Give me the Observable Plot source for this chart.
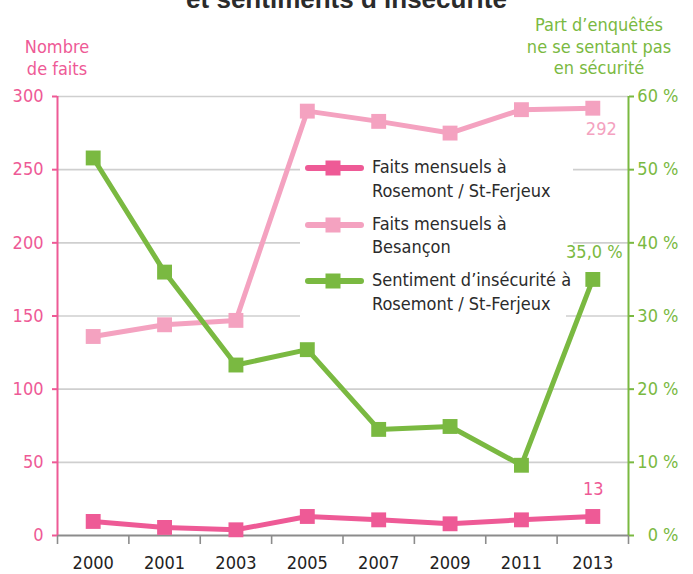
<!DOCTYPE html>
<html><head><meta charset="utf-8">
<script src="https://cdn.jsdelivr.net/npm/d3@7"></script>
<script src="https://cdn.jsdelivr.net/npm/@observablehq/plot@0.6"></script>
<style>
body{margin:0;background:#fff;}
#wrap{position:relative;width:693px;height:574px;overflow:hidden;font-family:"DejaVu Sans Condensed","DejaVu Sans",sans-serif;font-stretch:condensed;}
#chart{position:absolute;left:0;top:0;}
#title{position:absolute;left:0;width:693px;top:-14px;text-align:center;font-family:"Liberation Sans",Arial,sans-serif;font-stretch:normal;font-weight:bold;font-size:26px;line-height:26px;color:#2b2b2b;}
#ytL{position:absolute;left:7px;width:100px;top:36px;text-align:center;font-size:18px;line-height:21.5px;color:#ee5a96;}
#ytR{position:absolute;left:509px;width:180px;top:14px;text-align:center;font-size:18px;line-height:21.5px;color:#7ab941;}
#legend{position:absolute;left:300px;top:146px;width:273px;height:172px;}
.bg{position:absolute;background:#fff;}
.item{position:absolute;left:0;width:273px;}
.item svg{position:absolute;left:0;top:0;overflow:visible;}
.item .lab{position:absolute;left:72px;font-size:18px;line-height:23.5px;color:#2b2b2b;white-space:pre;}
</style></head><body>
<div id="wrap">
  <div id="chart"></div>
  <div id="title"></div>
  <div id="ytL"></div>
  <div id="ytR"></div>
  <div id="legend">
    <div class="bg" style="left:0;top:0;width:273px;height:98px;"></div>
    <div class="bg" style="left:0;top:98px;width:266px;height:74px;"></div>
  </div>
</div>
<script>
// ---- data ----
const years = ["2000", "2001", "2003", "2005", "2007", "2009", "2011", "2013"];
const faitsRosemont = [9.6, 5.5, 3.9, 13, 10.7, 8, 10.7, 13];
const faitsBesancon = [136, 144, 147, 290, 283, 275, 291, 292];
const sentimentPct = [51.6, 36.0, 23.3, 25.4, 14.5, 14.9, 9.6, 35.0];
const countTicks = [0, 50, 100, 150, 200, 250, 300];
const pctTicks = [0, 10, 20, 30, 40, 50, 60];
const seriesNames = [
  "Faits mensuels à\nRosemont / St-Ferjeux",
  "Faits mensuels à\nBesançon",
  "Sentiment d’insécurité à\nRosemont / St-Ferjeux"
];
const titleText = "et sentiments d’insécurité";
const leftTitle = ["Nombre", "de faits"];
const rightTitle = ["Part d’enquêtés", "ne se sentant pas", "en sécurité"];

// ---- styles ----
const PINK = "#ee5a96", LIGHT = "#f4a2c0", GREEN = "#7ab941", GRID = "#cfcfcf", AXIS = "#8c8c8c";
const seriesColors = [PINK, LIGHT, GREEN];

document.getElementById("title").textContent = titleText;
document.getElementById("ytL").innerHTML = leftTitle.join("<br>");
document.getElementById("ytR").innerHTML = rightTitle.join("<br>");

const ratio = countTicks[countTicks.length - 1] / pctTicks[pctTicks.length - 1];
const idx = years.map((_, i) => i);
const rowsR = idx.map(i => ({i, v: faitsRosemont[i]}));
const rowsB = idx.map(i => ({i, v: faitsBesancon[i]}));
const rowsS = idx.map(i => ({i, v: sentimentPct[i] * ratio, p: sentimentPct[i]}));
const edges = d3.range(years.length + 1).map(k => k - 0.5);
const lastIdx = years.length - 1;
const yMax = countTicks[countTicks.length - 1];
const R = 8.4;
const plotStyle = {fontFamily: "'DejaVu Sans Condensed','DejaVu Sans',sans-serif", fontSize: "18px", fontStretch: "condensed", background: "transparent", overflow: "visible"};
const frame = {
  width: 693, height: 574,
  marginTop: 96, marginBottom: 39, marginLeft: 57, marginRight: 65,
  x: {type: "linear", domain: [-0.5, years.length - 0.5], axis: null},
  y: {domain: [countTicks[0], yMax], axis: null},
  style: plotStyle
};

const chartSvg = Plot.plot({
  ...frame,
  marks: [
    Plot.gridY(countTicks.slice(1), {stroke: GRID, strokeOpacity: 1, strokeWidth: 1.6}),
    Plot.ruleY([0], {stroke: AXIS, strokeWidth: 2}),
    Plot.axisX(edges, {tickSize: 9, tickFormat: () => "", stroke: AXIS, strokeWidth: 1.6, label: null}),
    Plot.axisX(idx, {tickSize: 0, tickPadding: 21, tickFormat: i => years[i], color: "#222", fontSize: 18, label: null}),
    Plot.ruleX([-0.5], {y1: 0, y2: yMax, stroke: PINK, strokeWidth: 2}),
    Plot.axisY(countTicks, {anchor: "left", tickSize: 5, tickPadding: 9, color: PINK, strokeWidth: 2, fontSize: 18, label: null}),
    Plot.ruleX([years.length - 0.5], {y1: 0, y2: yMax, stroke: GREEN, strokeWidth: 2}),
    Plot.axisY(pctTicks.map(p => p * ratio), {anchor: "right", tickSize: 5, tickPadding: 45, textAnchor: "end", tickFormat: d => (d / ratio) + " %", color: GREEN, strokeWidth: 2, fontSize: 18, label: null}),
    Plot.line(rowsR, {x: "i", y: "v", stroke: PINK, strokeWidth: 5}),
    Plot.dot(rowsR, {x: "i", y: "v", symbol: "square", r: R, fill: PINK}),
    Plot.line(rowsB, {x: "i", y: "v", stroke: LIGHT, strokeWidth: 5}),
    Plot.dot(rowsB, {x: "i", y: "v", symbol: "square", r: R, fill: LIGHT}),
    Plot.line(rowsS, {x: "i", y: "v", stroke: GREEN, strokeWidth: 5}),
    Plot.dot(rowsS, {x: "i", y: "v", symbol: "square", r: R, fill: GREEN}),
    Plot.text([rowsB[lastIdx]], {x: "i", y: "v", text: d => d3.format("d")(d.v), dx: 8.5, dy: 21, fill: LIGHT, fontSize: 18}),
    Plot.text([rowsR[lastIdx]], {x: "i", y: "v", text: d => d3.format("d")(d.v), dx: 0.5, dy: -27, fill: PINK, fontSize: 18})
  ]
});
document.getElementById("chart").appendChild(chartSvg);

// ---- legend ----
const legend = document.getElementById("legend");
seriesNames.forEach((name, k) => {
  const t = 9 + k * 56.5;
  const item = document.createElement("div");
  item.className = "item";
  item.style.top = t + "px";
  const sy = 13;
  item.innerHTML = `<svg width="70" height="30"><line x1="8" x2="61" y1="${sy}" y2="${sy}" stroke="${seriesColors[k]}" stroke-width="6" stroke-linecap="round"/><rect x="${33 - 7.5}" y="${sy - 7.5}" width="15" height="15" fill="${seriesColors[k]}"/></svg>`;
  const lab = document.createElement("div");
  lab.className = "lab";
  lab.style.top = "0px";
  lab.textContent = name;
  item.appendChild(lab);
  legend.appendChild(item);
});

// value label drawn above the legend background
const overlaySvg = Plot.plot({
  ...frame,
  marks: [
    Plot.text([rowsS[lastIdx]], {x: "i", y: "v", text: d => d.p.toFixed(1).replace(".", ",") + " %", dx: 1.5, dy: -27, fill: GREEN, fontSize: 18})
  ]
});
overlaySvg.style.position = "absolute";
overlaySvg.style.left = "0px";
overlaySvg.style.top = "0px";
overlaySvg.style.pointerEvents = "none";
document.getElementById("wrap").appendChild(overlaySvg);
</script>
</body></html>
